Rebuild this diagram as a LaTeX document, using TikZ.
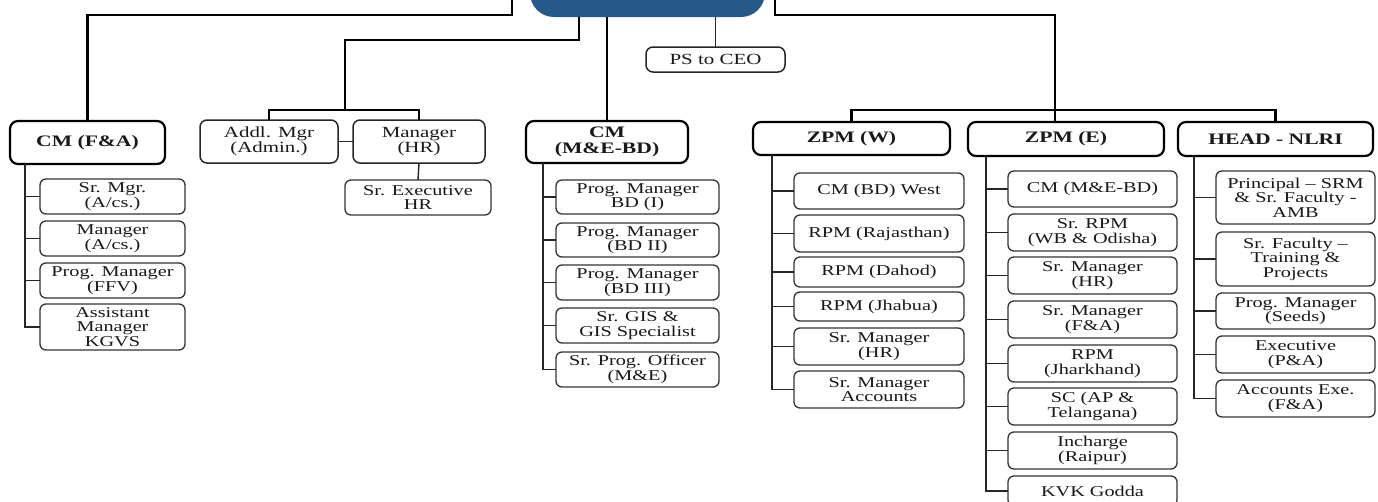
\documentclass[tikz,border=0pt]{standalone}
\usepackage{fontspec}
\setmainfont[FakeStretch=1.35]{Liberation Serif}
\definecolor{ceoblue}{RGB}{36,89,137}
\definecolor{ink}{RGB}{25,25,25}
\newcommand\orgbox[7]{\node[#1, anchor=north west, minimum width={#5pt-#3pt}, minimum height={#6pt-#4pt}] (#2) at (#3,#4) {#7};}
\tikzset{
  base/.style={inner sep=0pt, outer sep=0pt, align=center, fill=white, text=ink},
  hdr/.style={base, draw=black, line width=2.2pt, rounded corners=8pt, font=\fontsize{16}{16.5}\selectfont\bfseries},
  mid/.style={base, draw=black!85, line width=1.5pt, rounded corners=7pt, font=\fontsize{15.5}{15.5}\selectfont},
  leaf/.style={base, draw=black!80, line width=1.3pt, rounded corners=6pt, font=\fontsize{15}{14.5}\selectfont},
  ceobox/.style={fill=ceoblue, rounded corners=24pt, inner sep=0pt, outer sep=0pt},
  trunk/.style={draw=black, line width=2.1pt},
  twig/.style={draw=black!85, line width=1.4pt},
}
\begin{document}
\begin{tikzpicture}[x=1pt, y=-1pt]
\useasboundingbox (0,0) rectangle (1378,501);
\clip (0,0) rectangle (1378,501);
% CEO box (cut off at top)
\node[ceobox, minimum width=235pt, minimum height=60pt, anchor=south west] (ceo) at (530,17) {};
% headers
\orgbox{hdr}{cmfa}{10}{121}{165}{164}{CM (F\&A)}
\orgbox{hdr}{cmme}{526}{121}{688}{163}{CM\\(M\&E-BD)}
\orgbox{hdr}{zpmw}{753}{122}{950}{155}{ZPM (W)}
\orgbox{hdr}{zpme}{968}{122}{1164}{156}{ZPM (E)}
\orgbox{hdr}{head}{1178}{122}{1373}{156}{HEAD - NLRI}
% middle boxes
\orgbox{mid}{addl}{200}{120}{338}{163}{Addl. Mgr\\(Admin.)}
\orgbox{mid}{mgrhr}{353}{120}{485}{163}{Manager\\(HR)}
\orgbox{mid}{ps}{646}{47}{785}{72}{PS to CEO}
% CM (F&A) children
\orgbox{leaf}{a1}{40}{179}{185}{214}{Sr. Mgr.\\(A/cs.)}
\orgbox{leaf}{a2}{40}{221}{185}{256}{Manager\\(A/cs.)}
\orgbox{leaf}{a3}{40}{263}{185}{298}{Prog. Manager\\(FFV)}
\orgbox{leaf}{a4}{40}{304}{185}{350}{Assistant\\Manager\\KGVS}
\orgbox{leaf}{srx}{345}{180}{491}{215}{Sr. Executive\\HR}
% CM (M&E-BD) children
\orgbox{leaf}{b1}{556}{180}{719}{214}{Prog. Manager\\BD (I)}
\orgbox{leaf}{b2}{556}{223}{719}{257}{Prog. Manager\\(BD II)}
\orgbox{leaf}{b3}{556}{265}{719}{300}{Prog. Manager\\(BD III)}
\orgbox{leaf}{b4}{556}{308}{719}{343}{Sr. GIS \&\\GIS Specialist}
\orgbox{leaf}{b5}{556}{352}{719}{387}{Sr. Prog. Officer\\(M\&E)}
% ZPM (W) children
\orgbox{leaf}{w1}{794}{173}{964}{209}{CM (BD) West}
\orgbox{leaf}{w2}{794}{215}{964}{252}{RPM (Rajasthan)}
\orgbox{leaf}{w3}{794}{257}{964}{287}{RPM (Dahod)}
\orgbox{leaf}{w4}{794}{292}{964}{321}{RPM (Jhabua)}
\orgbox{leaf}{w5}{794}{328}{964}{365}{Sr. Manager\\(HR)}
\orgbox{leaf}{w6}{794}{371}{964}{408}{Sr. Manager\\Accounts}
% ZPM (E) children
\orgbox{leaf}{e1}{1008}{171}{1177}{207}{CM (M\&E-BD)}
\orgbox{leaf}{e2}{1008}{214}{1177}{251}{Sr. RPM\\(WB \& Odisha)}
\orgbox{leaf}{e3}{1008}{257}{1177}{294}{Sr. Manager\\(HR)}
\orgbox{leaf}{e4}{1008}{301}{1177}{338}{Sr. Manager\\(F\&A)}
\orgbox{leaf}{e5}{1008}{345}{1177}{382}{RPM\\(Jharkhand)}
\orgbox{leaf}{e6}{1008}{388}{1177}{425}{SC (AP \&\\Telangana)}
\orgbox{leaf}{e7}{1008}{432}{1177}{469}{Incharge\\(Raipur)}
\orgbox{leaf}{e8}{1008}{476}{1177}{506}{KVK Godda}
% HEAD - NLRI children
\orgbox{leaf}{h1}{1216}{171}{1375}{224}{Principal – SRM\\\& Sr. Faculty -\\AMB}
\orgbox{leaf}{h2}{1216}{232}{1375}{286}{Sr. Faculty –\\Training \&\\Projects}
\orgbox{leaf}{h3}{1216}{293}{1375}{329}{Prog. Manager\\(Seeds)}
\orgbox{leaf}{h4}{1216}{336}{1375}{373}{Executive\\(P\&A)}
\orgbox{leaf}{h5}{1216}{380}{1375}{417}{Accounts Exe.\\(F\&A)}
% top-level connectors
\coordinate (t1) at (512,0);
\coordinate (t1b) at (512,15);
\draw[trunk] (t1) -- (t1b) -| (cmfa.north);
\coordinate (t2) at (775,0);
\coordinate (t2b) at (1055,15);
\draw[trunk] (t2) |- (t2b) -- (t2b |- zpme.north);
\coordinate (hb2) at (1055,110);
\draw[trunk] (zpmw.north) |- (hb2) -| (head.north);
\coordinate (k1) at (579,40);
\coordinate (hb) at (345,110);
\draw[trunk] (ceo.south -| k1) -- (k1) -| (hb);
\draw[trunk] (addl.north) |- (hb) -| (mgrhr.north);
\draw[trunk] (ceo.south -| cmme.north) -- (cmme.north);
\draw[twig] (ceo.south -| ps.north) -- (ps.north);
\draw[twig] (addl.east) -- (mgrhr.west);
\draw[twig] (mgrhr.south) -- (srx.north);
% spines
\coordinate (sa) at (25,0);
\draw[twig] (cmfa.south -| sa) |- (a4.west);
\foreach \n in {a1,a2,a3} \draw[twig] (sa |- \n.west) -- (\n.west);
\coordinate (sb) at (543,0);
\draw[twig] (cmme.south -| sb) |- (b5.west);
\foreach \n in {b1,b2,b3,b4} \draw[twig] (sb |- \n.west) -- (\n.west);
\coordinate (sw) at (772,0);
\draw[twig] (zpmw.south -| sw) |- (w6.west);
\foreach \n in {w1,w2,w3,w4,w5} \draw[twig] (sw |- \n.west) -- (\n.west);
\coordinate (se) at (986,0);
\draw[twig] (zpme.south -| se) |- (e8.west);
\foreach \n in {e1,e2,e3,e4,e5,e6,e7} \draw[twig] (se |- \n.west) -- (\n.west);
\coordinate (sh) at (1194,0);
\draw[twig] (head.south -| sh) |- (h5.west);
\foreach \n in {h1,h2,h3,h4} \draw[twig] (sh |- \n.west) -- (\n.west);
\end{tikzpicture}
\end{document}
